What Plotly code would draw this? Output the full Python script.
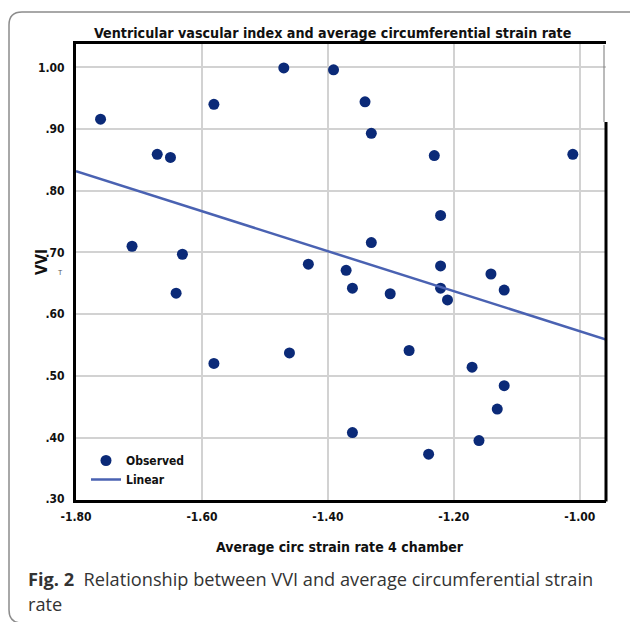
import numpy as np
import plotly.graph_objects as go

# ---- data ----
strain_rate = [-1.761, -1.671, -1.650, -1.711, -1.631, -1.641, -1.581, -1.581,
               -1.470, -1.461, -1.431, -1.391, -1.371, -1.361, -1.341, -1.331,
               -1.331, -1.361, -1.301, -1.271, -1.231, -1.221, -1.221, -1.221,
               -1.210, -1.240, -1.171, -1.160, -1.141, -1.120, -1.120, -1.131,
               -1.011]
vvi = [0.916, 0.859, 0.854, 0.710, 0.697, 0.634, 0.940, 0.520,
       0.999, 0.537, 0.681, 0.996, 0.671, 0.642, 0.944, 0.893,
       0.716, 0.408, 0.633, 0.541, 0.857, 0.760, 0.678, 0.642,
       0.623, 0.373, 0.514, 0.395, 0.665, 0.639, 0.484, 0.446,
       0.859]
x_ticks = [-1.80, -1.60, -1.40, -1.20, -1.00]
x_tick_labels = ["-1.80", "-1.60", "-1.40", "-1.20", "-1.00"]
y_ticks = [0.30, 0.40, 0.50, 0.60, 0.70, 0.80, 0.90, 1.00]
y_tick_labels = [".30", ".40", ".50", ".60", ".70", ".80", ".90", "1.00"]
x_range = [-1.8, -0.9583]
y_range = [0.2987, 1.0378]

# linear fit
slope, intercept = np.polyfit(strain_rate, vvi, 1)
fit_x = np.array(x_range)
fit_y = intercept + slope * fit_x

W, H = 630, 622
L, R, T, B = 76, 606, 44, 500


def px(x):
    return (x - L) / (R - L)


def py(y):
    return (B - y) / (B - T)


NARROW = "Liberation Sans Narrow, Arial Narrow, DejaVu Sans Condensed, sans-serif"
CAPTION = "Open Sans, Noto Sans, sans-serif"

fig = go.Figure()
fig.add_trace(go.Scatter(
    x=strain_rate, y=vvi, mode="markers", name="<b>Observed</b>",
    marker=dict(size=11, color="#0b2a78", line=dict(width=0)),
))
fig.add_trace(go.Scatter(
    x=fit_x, y=fit_y, mode="lines", name="<b>Linear</b>",
    line=dict(color="#4a62b2", width=2.5),
))

shapes = [
    # outer rounded frame
    dict(type="path", xref="paper", yref="paper",
         path=(f"M {px(645)},{py(12)} L {px(22)},{py(12)} Q {px(9)},{py(12)} {px(9)},{py(25)} "
               f"L {px(9)},{py(610)} Q {px(9)},{py(623)} {px(22)},{py(623)} L {px(645)},{py(623)}"),
         line=dict(color="#8c8c8c", width=1.5), layer="above"),
    # right edge of the plot frame: thick black only from y=122 down, thin grey above
    dict(type="line", xref="paper", yref="paper", x0=1, y0=py(122), x1=1, y1=py(501.5),
         line=dict(color="black", width=3), layer="above"),
    dict(type="line", xref="paper", yref="paper", x0=px(604), y0=py(45), x1=px(604), y1=py(122),
         line=dict(color="#777777", width=1), layer="above"),
]

annotations = [
    dict(text="<b>Ventricular vascular index and average circumferential strain rate</b>",
         x=px(333), y=py(33), xref="paper", yref="paper", showarrow=False,
         font=dict(family=NARROW, size=14.2, color="#111111"), xanchor="center", yanchor="middle"),
    dict(text="<b>VVI</b>", x=px(42), y=py(262), xref="paper", yref="paper", showarrow=False,
         textangle=-90, font=dict(family=NARROW, size=15, color="#111111"),
         xanchor="center", yanchor="middle"),
    dict(text="T", x=px(60), y=py(272), xref="paper", yref="paper", showarrow=False,
         font=dict(family="Liberation Sans, Arial, sans-serif", size=7, color="#555555"),
         xanchor="center", yanchor="middle"),
    dict(text="<b>Average circ strain rate 4 chamber</b>", x=px(340), y=py(547),
         xref="paper", yref="paper", showarrow=False,
         font=dict(family=NARROW, size=14, color="#111111"), xanchor="center", yanchor="middle"),
    dict(text="<b>Fig. 2</b>  Relationship between VVI and average circumferential strain",
         x=px(26), y=py(579), xref="paper", yref="paper", showarrow=False,
         font=dict(family=CAPTION, size=18.2, color="#333333"),
         xanchor="left", yanchor="middle"),
    dict(text="rate", x=px(26), y=py(604), xref="paper", yref="paper", showarrow=False,
         font=dict(family=CAPTION, size=18.2, color="#333333"),
         xanchor="left", yanchor="middle"),
]

fig.update_layout(
    width=W, height=H,
    margin=dict(l=L, r=W - R, t=T, b=H - B, pad=0),
    paper_bgcolor="white", plot_bgcolor="white",
    showlegend=True,
    legend=dict(x=px(86), y=py(446), xanchor="left", yanchor="top",
                bgcolor="rgba(0,0,0,0)", borderwidth=0, tracegroupgap=0,
                font=dict(family=NARROW, size=12, color="#111111"),
                itemwidth=30),
    shapes=shapes,
    annotations=annotations,
    xaxis=dict(range=x_range, tickvals=x_ticks, ticktext=["<b>%s</b>" % t for t in x_tick_labels],
               showgrid=True, gridcolor="#d2d2d2", gridwidth=1.8, zeroline=False,
               showline=True, mirror=True, linecolor="black", linewidth=3,
               ticks="", ticklabelstandoff=4,
               tickfont=dict(family=NARROW, size=12, color="#111111")),
    yaxis=dict(range=y_range, tickvals=y_ticks, ticktext=["<b>%s</b>" % t for t in y_tick_labels],
               showgrid=True, gridcolor="#d2d2d2", gridwidth=1.5, zeroline=False,
               showline=True, mirror=False, linecolor="black", linewidth=3,
               ticks="", ticklabelstandoff=6,
               tickfont=dict(family=NARROW, size=12, color="#111111")),
)

fig.write_html("out.html", config={"displayModeBar": False},
               post_script="document.body.style.margin='0px';")
